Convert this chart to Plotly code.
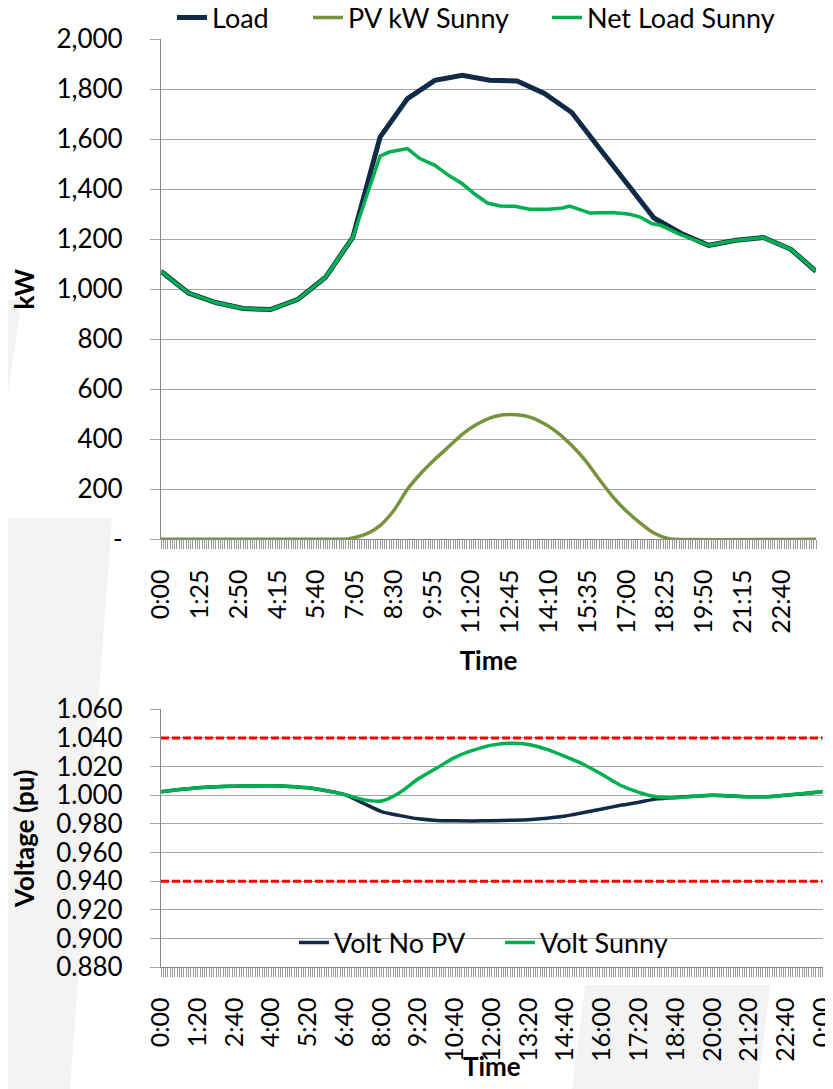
import plotly.graph_objects as go

# The page body adds an 8 px margin, so the figure is drawn 8 px smaller
# and every page-pixel position below is converted with that offset.
W, H = 833, 1089
OX, OY = 8, 8
FW, FH = W - OX, H - OY

# ---------------- data (time in minutes after midnight) ----------------
load_t = [0, 60, 120, 180, 240, 300, 360, 420, 480, 540, 600, 660, 720, 780,
          840, 900, 960, 1020, 1080, 1140, 1200, 1260, 1320, 1380, 1435]
load_kw = [1072, 985, 947, 923, 919, 960, 1047, 1207, 1609, 1763, 1836, 1856, 1836, 1833,
           1783, 1707, 1565, 1425, 1285, 1223, 1176, 1196, 1207, 1160, 1072]

pv_t = [0, 390, 405, 420, 450, 480, 510, 540, 570, 600, 630, 660, 690, 720, 750,
        780, 810, 840, 870, 900, 930, 960, 990, 1020, 1050, 1080, 1110, 1125, 1435]
pv_kw = [0, 0, 0, 5, 22, 55, 115, 200, 265, 320, 370, 420, 458, 485, 498,
         498, 488, 462, 425, 375, 315, 240, 170, 112, 65, 25, 3, 0, 0]

net_t = [0, 60, 120, 180, 240, 300, 360, 420, 480, 500, 540, 567, 600, 630, 660,
         688, 715, 743, 775, 808, 850, 880, 895, 940, 990, 1027, 1050, 1075, 1095,
         1133, 1200, 1260, 1320, 1380, 1435]
net_kw = [1072, 985, 947, 923, 919, 960, 1047, 1207, 1533, 1549, 1563, 1523, 1496, 1456, 1422,
          1380, 1345, 1333, 1332, 1320, 1320, 1325, 1333, 1305, 1307, 1300, 1289, 1263, 1256,
          1223, 1176, 1196, 1207, 1160, 1072]

volt_t = [0, 40, 80, 120, 160, 200, 240, 280, 320, 360, 400, 440, 480, 520, 560, 600,
          640, 680, 720, 760, 800, 840, 880, 920, 960, 1000, 1040, 1080, 1120, 1160,
          1200, 1240, 1280, 1320, 1360, 1400, 1440]
volt_no_pv = [1.0025, 1.0040, 1.0053, 1.0060, 1.0063, 1.0065, 1.0066, 1.0062, 1.0052, 1.0032,
              1.0005, 0.9945, 0.9886, 0.9858, 0.9836, 0.9825, 0.9822, 0.9821, 0.9823, 0.9826,
              0.9830, 0.9840, 0.9855, 0.9880, 0.9905, 0.9930, 0.9952, 0.9975, 0.9985, 0.9993,
              1.0000, 0.9995, 0.9990, 0.9990, 1.0000, 1.0012, 1.0027]
volt_sunny = [1.0025, 1.0040, 1.0053, 1.0060, 1.0063, 1.0065, 1.0066, 1.0062, 1.0052, 1.0032,
              1.0005, 0.9970, 0.9960, 1.0020, 1.0115, 1.0190, 1.0265, 1.0315, 1.0350, 1.0363,
              1.0355, 1.0320, 1.0270, 1.0215, 1.0145, 1.0070, 1.0020, 0.9988, 0.9983, 0.9993,
              1.0000, 0.9995, 0.9990, 0.9990, 1.0002, 1.0012, 1.0027]
volt_limit_t = [0, 1440]
volt_upper = [1.04, 1.04]
volt_lower = [0.94, 0.94]

kw_tickvals = [0, 200, 400, 600, 800, 1000, 1200, 1400, 1600, 1800, 2000]
kw_ticktext = ["-", "200", "400", "600", "800", "1,000", "1,200", "1,400", "1,600", "1,800", "2,000"]
top_tick_min = [0, 85, 170, 255, 340, 425, 510, 595, 680, 765, 850, 935, 1020, 1105, 1190, 1275, 1360]
top_tick_text = ["0:00", "1:25", "2:50", "4:15", "5:40", "7:05", "8:30", "9:55", "11:20",
                 "12:45", "14:10", "15:35", "17:00", "18:25", "19:50", "21:15", "22:40"]
v_tickvals = [0.88, 0.90, 0.92, 0.94, 0.96, 0.98, 1.00, 1.02, 1.04, 1.06]
bot_tick_min = [0, 80, 160, 240, 320, 400, 480, 560, 640, 720, 800, 880, 960, 1040, 1120,
                1200, 1280, 1360, 1440]
bot_tick_text = ["0:00", "1:20", "2:40", "4:00", "5:20", "6:40", "8:00", "9:20", "10:40",
                 "12:00", "13:20", "14:40", "16:00", "17:20", "18:40", "20:00", "21:20",
                 "22:40", "0:00"]

# ---------------- styling ----------------
FONT = "Lato"
NAVY = "#112A46"
OLIVE = "#77933C"
GREEN = "#00B050"
GRID = "#A6A6A6"
AXIS = "#878787"


def px_x(x):
    return (x - OX) / FW


def px_y(y):
    return 1 - (y - OY) / FH


fig = go.Figure()

fig.add_trace(go.Scatter(x=load_t, y=load_kw, name="Load", mode="lines",
                         line=dict(color=NAVY, width=5), cliponaxis=False,
                         legend="legend", xaxis="x", yaxis="y"))
fig.add_trace(go.Scatter(x=pv_t, y=pv_kw, name="PV kW Sunny", mode="lines",
                         line=dict(color=OLIVE, width=3.5, shape="spline", smoothing=0.8),
                         cliponaxis=False, legend="legend2", xaxis="x", yaxis="y"))
fig.add_trace(go.Scatter(x=net_t, y=net_kw, name="Net Load Sunny", mode="lines",
                         line=dict(color=GREEN, width=3.5), cliponaxis=False,
                         legend="legend3", xaxis="x", yaxis="y"))

fig.add_trace(go.Scatter(x=volt_limit_t, y=volt_upper, mode="lines", showlegend=False,
                         line=dict(color="#FF0000", width=3, dash="8px,3px"),
                         xaxis="x2", yaxis="y2", hoverinfo="skip"))
fig.add_trace(go.Scatter(x=volt_limit_t, y=volt_lower, mode="lines", showlegend=False,
                         line=dict(color="#FF0000", width=3, dash="8px,3px"),
                         xaxis="x2", yaxis="y2", hoverinfo="skip"))
fig.add_trace(go.Scatter(x=volt_t, y=volt_no_pv, name="Volt No PV", mode="lines",
                         line=dict(color=NAVY, width=3.5, shape="spline", smoothing=0.8),
                         legend="legend4", xaxis="x2", yaxis="y2"))
fig.add_trace(go.Scatter(x=volt_t, y=volt_sunny, name="Volt Sunny", mode="lines",
                         line=dict(color=GREEN, width=3.5, shape="spline", smoothing=0.8),
                         legend="legend5", xaxis="x2", yaxis="y2"))

tick_font = dict(family=FONT, size=26, color="#000000")
xtick_font = dict(family=FONT, size=25, color="#000000")
title_font = dict(family=FONT, size=26, color="#000000", weight="bold")
legend_font = dict(family=FONT, size=27, color="#000000")

common_x = dict(showgrid=False, showline=True, linecolor=AXIS, linewidth=1.3,
                ticks="outside", ticklen=9, tickcolor="#9A9A9A", tickwidth=1,
                tickangle=-90, tickfont=xtick_font, zeroline=False, automargin=False,
                ticklabeloverflow="allow", ticklabelstandoff=10,
                minor=dict(ticks="outside", dtick=5, tick0=0, ticklen=9,
                           tickcolor="#9A9A9A", tickwidth=1, showgrid=False))
common_y = dict(showgrid=True, gridcolor=GRID, gridwidth=1.3, showline=True,
                linecolor=AXIS, linewidth=1.3, ticks="outside", ticklen=10,
                tickcolor=GRID, tickwidth=1.3, tickfont=tick_font, zeroline=False,
                ticklabelstandoff=22, automargin=False)


def legend_at(text_left, y_center):
    return dict(x=px_x(text_left - 40), y=px_y(y_center), xanchor="left", yanchor="middle",
                orientation="h", font=legend_font, bgcolor="rgba(0,0,0,0)", itemwidth=30)


fig.update_layout(
    width=FW, height=FH,
    margin=dict(l=0, r=0, t=0, b=0, autoexpand=False),
    paper_bgcolor="white", plot_bgcolor="white",
    font=dict(family=FONT, color="#000000"),
    showlegend=True,
    xaxis=dict(common_x, domain=[px_x(161), px_x(816)], range=[0, 1435], anchor="y",
               tickmode="array", tickvals=top_tick_min, ticktext=top_tick_text,
               title=dict(text="Time", font=title_font, standoff=19)),
    yaxis=dict(common_y, domain=[px_y(539.3), px_y(39.3)], range=[0, 2000], anchor="x",
               tickmode="array", tickvals=kw_tickvals, ticktext=kw_ticktext,
               title=dict(text="kW", font=title_font, standoff=14)),
    xaxis2=dict(common_x, domain=[px_x(161), px_x(822.7)], range=[0, 1440], anchor="y2",
                tickmode="array", tickvals=bot_tick_min, ticktext=bot_tick_text),
    yaxis2=dict(common_y, domain=[px_y(967.3), px_y(709.3)], range=[0.88, 1.06], anchor="x2",
                tickmode="array", tickvals=v_tickvals, tickformat=".3f",
                title=dict(text="Voltage (pu)", font=title_font, standoff=20)),
    legend=legend_at(212, 18),
    legend2=legend_at(348, 18),
    legend3=legend_at(587, 18),
    legend4=legend_at(334, 943),
    legend5=legend_at(540, 943),
)

# bottom x-axis title (placed as annotation: an axis title is pinned inside the zero margin)
fig.add_annotation(text="<b>Time</b>", xref="paper", yref="paper",
                   x=px_x((161 + 822.7) / 2), y=px_y(1066), xanchor="center", yanchor="middle",
                   showarrow=False, font=dict(family=FONT, size=26, color="#000000"))

# faint background watermark shapes
WM = "#F3F3F3"


def poly(pts):
    return "M " + " L ".join(f"{px_x(x)},{px_y(y)}" for x, y in pts) + " Z"


for pts in [
    [(0, 300), (22, 300), (0, 445)],
    [(0, 518), (112, 518), (70, 1089), (0, 1089)],
    [(585, 985), (770, 985), (758, 1089), (572, 1089)],
]:
    fig.add_shape(type="path", path=poly(pts), xref="paper", yref="paper",
                  fillcolor=WM, line=dict(width=0), layer="below")

fig.write_html("out.html")
